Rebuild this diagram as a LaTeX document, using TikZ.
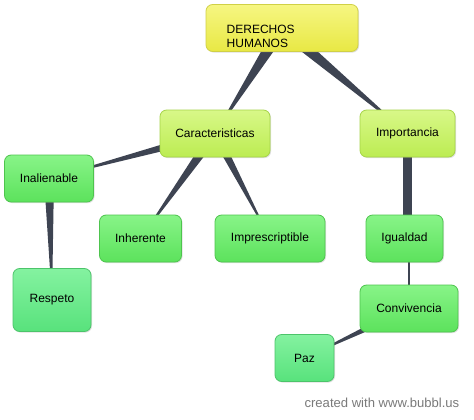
\documentclass[tikz,border=0pt]{standalone}
\usepackage{fontspec}
\setmainfont{Liberation Sans}
\usetikzlibrary{calc,backgrounds,shadows}

\definecolor{linkgray}{HTML}{3E4452}
\definecolor{footgray}{HTML}{7A7A7A}
\definecolor{yeltop}{HTML}{F6F682}
\definecolor{yelbot}{HTML}{E8E844}
\definecolor{yeledge}{HTML}{D0D046}
\definecolor{limetop}{HTML}{D8F888}
\definecolor{limebot}{HTML}{BCEC52}
\definecolor{limeedge}{HTML}{A6D448}
\definecolor{greentop}{HTML}{88F488}
\definecolor{greenbot}{HTML}{5CE25C}
\definecolor{greenedge}{HTML}{4EC44E}
\definecolor{mintop}{HTML}{84F2A0}
\definecolor{minbot}{HTML}{58E27C}
\definecolor{minedge}{HTML}{4CC46A}

% tapered connector: parent, child, half width at parent centre
\newcommand{\taper}[3]{%
  \fill[linkgray] ($(#1.center)!#3!90:(#2.center)$) -- ($(#1.center)!#3!-90:(#2.center)$) -- (#2.center) -- cycle;}

\tikzset{
  bubble/.style={rounded corners=5pt, line width=0.6pt, minimum height=35.25pt,
    inner sep=0pt, font=\fontsize{9}{10.5}\selectfont,
    drop shadow={opacity=0.25, shadow xshift=0.8pt, shadow yshift=-0.8pt}},
  topbubble/.style={bubble, draw=yeledge, top color=yeltop, bottom color=yelbot},
  midbubble/.style={bubble, draw=limeedge, top color=limetop, bottom color=limebot},
  leafbubble/.style={bubble, draw=greenedge, top color=greentop, bottom color=greenbot},
  mintbubble/.style={bubble, draw=minedge, top color=mintop, bottom color=minbot}
}

\begin{document}
\begin{tikzpicture}[x=0.75pt,y=-0.75pt]
  \useasboundingbox (0,0) rectangle (474,419);

  \node[topbubble, minimum width=114pt] (der) at (282,28) {};
  \node[anchor=west, align=left, font=\fontsize{9}{10.5}\selectfont] (dertxt) at (222,36.5) {DERECHOS\\HUMANOS};

  \node[midbubble, minimum width=82.5pt] (caract) at (215,133.5) {Caracteristicas};
  \node[midbubble, minimum width=71.25pt] (impor) at (407.5,133.5) {Importancia};

  \node[leafbubble, minimum width=66.75pt] (inal) at (49,178.5) {Inalienable};
  \node[leafbubble, minimum width=61.5pt] (inher) at (140.5,238.5) {Inherente};
  \node[leafbubble, minimum width=82.5pt] (impres) at (270,238.5) {Imprescriptible};
  \node[leafbubble, minimum width=57.75pt] (igual) at (404.5,238.5) {Igualdad};
  \node[leafbubble, minimum width=73.5pt] (conv) at (409,308.5) {Convivencia};

  \node[mintbubble, minimum width=58.5pt, minimum height=47.25pt] (resp) at (52,300) {Respeto};
  \node[mintbubble, minimum width=44.25pt] (paz) at (304.5,358) {Paz};

  \node[anchor=base east, text=footgray, font=\fontsize{9.8}{11}\selectfont] (foot) at (464,407) {created with www.bubbl.us};

  \begin{scope}[on background layer]
    \fill[white] (0,0) rectangle (474,419);
    \taper{der}{caract}{5pt}
    \taper{der}{impor}{5pt}
    \taper{caract}{inal}{3.6pt}
    \taper{caract}{inher}{4pt}
    \taper{caract}{impres}{3.5pt}
    \taper{inal}{resp}{3.75pt}
    \taper{conv}{paz}{3.2pt}
    \draw[linkgray, line width=6.5pt] (impor.south) -- (impor.south |- igual.north);
    \draw[linkgray, line width=1.1pt] (conv.north |- igual.south) -- (conv.north);
  \end{scope}
\end{tikzpicture}
\end{document}
